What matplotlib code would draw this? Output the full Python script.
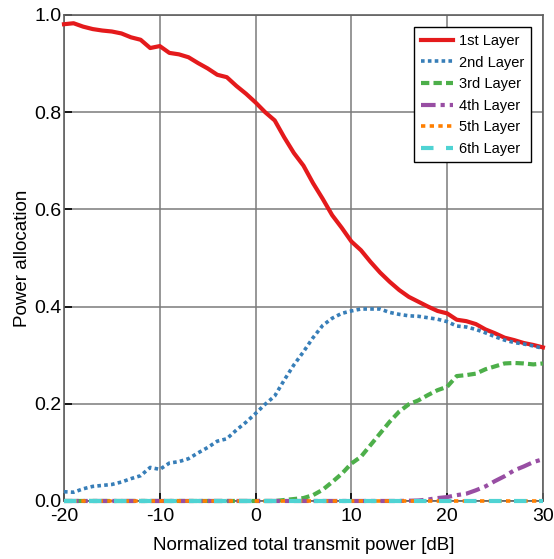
import matplotlib.pyplot as plt
import numpy as np

plt.rcParams['font.family'] = ['Liberation Sans', 'DejaVu Sans']
plt.rcParams['axes.unicode_minus'] = False

# transmit power in dB
snr_db = np.arange(-20, 31)

layer1 = [0.981, 0.983, 0.976, 0.971, 0.968, 0.966, 0.962, 0.954, 0.949, 0.932,
          0.936, 0.922, 0.919, 0.913, 0.901, 0.890, 0.877, 0.872, 0.854, 0.838,
          0.820, 0.800, 0.783, 0.748, 0.716, 0.690, 0.654, 0.622, 0.588, 0.562,
          0.534, 0.516, 0.492, 0.470, 0.451, 0.434, 0.420, 0.410, 0.400, 0.391,
          0.386, 0.373, 0.370, 0.364, 0.353, 0.345, 0.336, 0.331, 0.325, 0.321,
          0.316]
layer2 = [0.019, 0.018, 0.025, 0.030, 0.032, 0.034, 0.039, 0.046, 0.052, 0.069,
          0.065, 0.078, 0.081, 0.087, 0.099, 0.110, 0.123, 0.128, 0.146, 0.162,
          0.180, 0.199, 0.216, 0.249, 0.280, 0.307, 0.336, 0.361, 0.376, 0.386,
          0.391, 0.395, 0.395, 0.395, 0.388, 0.384, 0.381, 0.380, 0.377, 0.374,
          0.369, 0.360, 0.358, 0.353, 0.346, 0.338, 0.331, 0.326, 0.323, 0.319,
          0.314]
layer3 = [0.0] * 23 + [0.002, 0.004, 0.006, 0.012, 0.023, 0.039, 0.056,
                       0.077, 0.091, 0.115, 0.139, 0.163, 0.184, 0.199, 0.207,
                       0.218, 0.228, 0.235, 0.257, 0.259, 0.262, 0.271, 0.277,
                       0.283, 0.284, 0.283, 0.281, 0.283]
layer4 = [0.0] * 36 + [0.0005, 0.001, 0.003, 0.006, 0.008, 0.012, 0.015,
                       0.022, 0.030, 0.041, 0.051, 0.063, 0.071, 0.080, 0.086]
layer5 = [0.0] * 51
layer6 = [0.0] * 51

labels = ['1st Layer', '2nd Layer', '3rd Layer', '4th Layer', '5th Layer', '6th Layer']
colors = ['#e41a1c', '#377eb8', '#4daf4a', '#984ea3', '#ff7f00', '#4fd3d3']
styles = ['-', (0, (1, 0.9)), (0, (2, 1)), (0, (3.5, 1.2, 1, 1.2)),
          (0, (1.2, 1.2)), (0, (3, 3))]
widths = [3, 2.6, 3, 3, 2.6, 3]

fig = plt.figure(figsize=(5.54, 5.59), dpi=100)
ax = fig.add_axes([0.1155, 0.1038, 0.8645, 0.8694])

series = [layer1, layer2, layer3, layer4, layer5, layer6]
for y, lab, c, ls, lw in zip(series, labels, colors, styles, widths):
    ax.plot(snr_db, y, color=c, linestyle=ls, linewidth=lw, label=lab,
            clip_on=False, zorder=3)

ax.set_xlim(-20, 30)
ax.set_ylim(0, 1.0)
ax.set_xticks([-20, -10, 0, 10, 20, 30])
ax.set_yticks([0, 0.2, 0.4, 0.6, 0.8, 1.0])
ax.set_yticklabels(['0.0', '0.2', '0.4', '0.6', '0.8', '1.0'])
ax.grid(True, color='#7a7a7a', linewidth=1.1)
ax.tick_params(direction='in', length=6, width=1.2, colors='black',
               labelsize=14)
ax.tick_params(axis='x', pad=5)
ax.tick_params(axis='y', pad=2)
for s in ax.spines.values():
    s.set_color('#606060')
    s.set_linewidth(1.2)

ax.set_xlabel('Normalized total transmit power [dB]', fontsize=13.5, labelpad=9)
ax.set_ylabel('Power allocation', fontsize=13.5, labelpad=2)

leg = ax.legend(loc='upper right', fontsize=10.5, handlelength=2.2,
                handletextpad=0.4, fancybox=False, framealpha=1,
                edgecolor='black', borderaxespad=0.85, labelspacing=0.52,
                borderpad=0.45)
leg.get_frame().set_linewidth(1.0)

fig.savefig('out.png', dpi=100)
